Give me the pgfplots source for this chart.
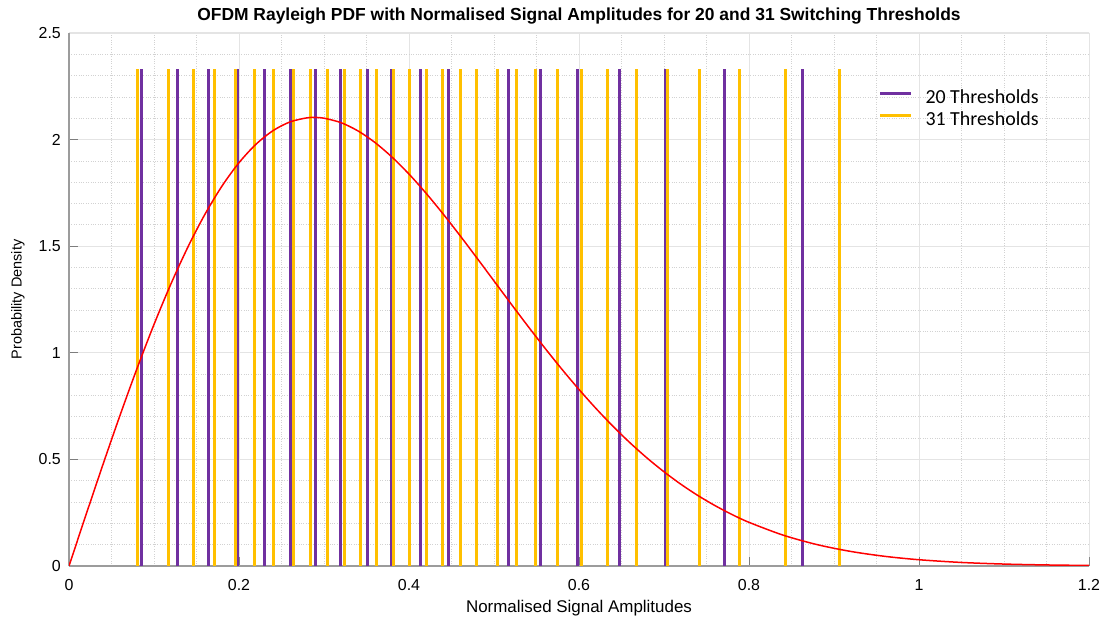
\documentclass[border=0pt]{standalone}
\usepackage{pgfplots}
\pgfplotsset{compat=1.18}
\usepackage{fontspec}
\setmainfont{Liberation Sans}
\newfontfamily\legendfont{Carlito}

\definecolor{thrA}{HTML}{7030A0}
\definecolor{thrB}{HTML}{FFC000}
\definecolor{gridmajor}{HTML}{E4E4E4}
\definecolor{gridminor}{HTML}{D2D2D2}
\definecolor{axisgray}{HTML}{9C9C9C}

% switching thresholds (normalised amplitude, line height)
\pgfplotstableread{
x      y
0.0855 2.33
0.1274 2.33
0.1647 2.33
0.1985 2.33
0.2302 2.33
0.2600 2.33
0.2900 2.33
0.3196 2.33
0.3506 2.33
0.3796 2.33
0.4133 2.33
0.4462 2.33
0.4796 2.33
0.5168 2.33
0.5547 2.33
0.5988 2.33
0.6474 2.33
0.7020 2.33
0.7709 2.33
0.8624 2.33
}\twentythr

\pgfplotstableread{
x      y
0.0804 2.33
0.1173 2.33
0.1462 2.33
0.1706 2.33
0.1953 2.33
0.2180 2.33
0.2408 2.33
0.2639 2.33
0.2839 2.33
0.3044 2.33
0.3247 2.33
0.3432 2.33
0.3615 2.33
0.3812 2.33
0.4008 2.33
0.4204 2.33
0.4392 2.33
0.4604 2.33
0.4796 2.33
0.5044 2.33
0.5262 2.33
0.5486 2.33
0.5745 2.33
0.6027 2.33
0.6333 2.33
0.6679 2.33
0.7044 2.33
0.7420 2.33
0.7886 2.33
0.8435 2.33
0.9059 2.33
}\thirtyonethr

% Rayleigh probability density of the normalised amplitude
\pgfplotstableread{
x     y
0.00  0.0000
0.02  0.2400
0.04  0.4766
0.06  0.7064
0.08  0.9261
0.10  1.1329
0.12  1.3239
0.14  1.4970
0.16  1.6502
0.18  1.7821
0.20  1.8916
0.22  1.9782
0.24  2.0419
0.26  2.0829
0.28  2.1021
0.29  2.1039
0.30  2.1004
0.32  2.0794
0.34  2.0407
0.36  1.9862
0.38  1.9180
0.40  1.8382
0.42  1.7487
0.44  1.6519
0.46  1.5498
0.48  1.4442
0.50  1.3371
0.52  1.2300
0.54  1.1244
0.56  1.0215
0.58  0.9223
0.60  0.8280
0.62  0.7388
0.64  0.6553
0.66  0.5779
0.68  0.5067
0.70  0.4419
0.72  0.3831
0.74  0.3303
0.76  0.2833
0.78  0.2415
0.80  0.2048
0.84  0.1449
0.88  0.1004
0.92  0.0681
0.96  0.0452
1.00  0.0294
1.05  0.0166
1.10  0.0091
1.15  0.0049
1.20  0.0025
}\rayleigh

\begin{document}
\begin{tikzpicture}
\path[use as bounding box] (-69bp,-53bp) rectangle (1035bp,566bp);
\begin{axis}[
  scale only axis,
  width=1020bp, height=533bp,
  at={(0,0)}, anchor=south west,
  xmin=0, xmax=1.2, ymin=0, ymax=2.5,
  xtick={0,0.2,0.4,0.6,0.8,1,1.2},
  ytick={0,0.5,1,1.5,2,2.5},
  minor x tick num=3, minor y tick num=4,
  grid=both,
  major grid style={gridmajor, line width=0.8bp},
  minor grid style={gridminor, dotted, line width=0.8bp},
  axis x line*=bottom, axis y line*=left,
  axis line style={axisgray, line width=1.5bp, -},
  tick align=inside,
  major tick length=9bp, minor tick length=0bp,
  major tick style={axisgray!80!black, line width=1bp},
  /pgf/number format/assume math mode=true,
  tick label style={font=\fontsize{16}{16}\selectfont, inner sep=0pt},
  xticklabel style={anchor=base, yshift=-24bp},
  yticklabel style={anchor=east, xshift=-8bp},
  xlabel={Normalised Signal Amplitudes},
  xlabel style={at={(axis description cs:0.5,0)}, anchor=base, yshift=-46bp,
    font=\fontsize{17}{17}\selectfont, inner sep=0pt},
  ylabel={Probability Density},
  ylabel style={at={(axis description cs:0,0.5)}, anchor=center, yshift=51bp,
    font=\fontsize{14.5}{14.5}\selectfont, inner sep=0pt},
  title={OFDM Rayleigh PDF with Normalised Signal Amplitudes for 20 and 31 Switching Thresholds},
  title style={at={(axis description cs:0.5,1)}, anchor=base, yshift=7bp,
    font=\bfseries\fontsize{17.5}{17.5}\selectfont, inner sep=0pt},
  legend style={draw=none, fill=none, inner sep=0pt, outer sep=0pt,
    at={(axis description cs:0,1)}, anchor=north west,
    xshift=810bp, yshift=-56.5bp,
    font=\legendfont\fontsize{20}{20}\selectfont,
    nodes={inner sep=0pt, text height=14bp, text depth=4bp},
    column sep=13bp, row sep=4bp},
  legend cell align=left,
  legend image code/.code={\draw[#1, line width=2.5bp] (0bp,5bp) -- (31bp,5bp);},
]
\addplot[thrA, line width=3bp, ycomb, no markers] table[x=x, y=y] {\twentythr};
\addlegendentry{20 Thresholds}
\addplot[thrB, line width=3bp, ycomb, no markers] table[x=x, y=y] {\thirtyonethr};
\addlegendentry{31 Thresholds}
\addplot[red, line width=1.5bp, smooth, no markers, forget plot] table[x=x, y=y] {\rayleigh};
\draw[gridmajor, line width=1bp] (rel axis cs:0,1) -- (rel axis cs:1,1) -- (rel axis cs:1,0);
\end{axis}
\end{tikzpicture}
\end{document}
